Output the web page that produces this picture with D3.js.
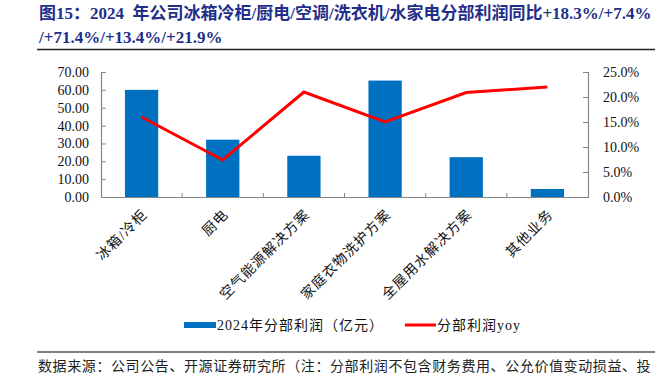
<!DOCTYPE html>
<html lang="zh">
<head>
  <meta charset="UTF-8">
  <title>分部利润</title>
  <script src="https://d3js.org/d3.v7.min.js"></script>
  <style>
    body { margin: 0; padding: 0; background: #fff; }
    svg { display: block; }
    .num { font-family: "Liberation Serif", "Noto Sans CJK SC", serif; }
    .cjk { font-family: "Liberation Serif", "Noto Sans CJK SC", sans-serif; }
  </style>
</head>
<body>
  <svg id="chart"></svg>
  <script>
    // data
    const categories = ["冰箱/冷柜", "厨电", "空气能源解决方案", "家庭衣物洗护方案", "全屋用水解决方案", "其他业务"];
    const profit2024 = [60.0, 32.1, 23.1, 65.2, 22.3, 4.5];      // 亿元
    const profitYoy = [0.160, 0.074, 0.210, 0.150, 0.209, 0.220];
    const leftTicks = [0, 10, 20, 30, 40, 50, 60, 70];
    const rightTicks = [0, 0.05, 0.10, 0.15, 0.20, 0.25];

    const titleLines = [
      "图15：2024 年公司冰箱冷柜/厨电/空调/洗衣机/水家电分部利润同比+18.3%/+7.4%",
      "/+71.4%/+13.4%/+21.9%"
    ];
    const sourceText = "数据来源：公司公告、开源证券研究所（注：分部利润不包含财务费用、公允价值变动损益、投";

    const width = 661, height = 382;
    const svg = d3.select("#chart").attr("width", width).attr("height", height);

    // title
    svg.selectAll("text.title")
      .data(titleLines)
      .enter()
      .append("text")
      .attr("class", "title cjk")
      .attr("x", 39)
      .attr("y", (d, i) => 13 + i * 24)
      .attr("dy", "0.35em")
      .attr("font-size", 17)
      .attr("font-weight", "bold")
      .attr("fill", "#1f2f8a")
      .style("white-space", "pre")
      .text(d => d.replace("2024 ", "2024  "));

    svg.append("line")
      .attr("x1", 37).attr("x2", 655)
      .attr("y1", 49.5).attr("y2", 49.5)
      .attr("stroke", "#222").attr("stroke-width", 1.5);

    // scales
    const x = d3.scaleBand().domain(categories).range([101, 588]).padding(0);
    const yL = d3.scaleLinear().domain([0, 70]).range([197, 72]);
    const yR = d3.scaleLinear().domain([0, 0.25]).range([197, 72]);
    const barW = x.bandwidth() * 0.41;

    // bars
    svg.selectAll("rect.bar")
      .data(profit2024)
      .enter()
      .append("rect")
      .attr("class", "bar")
      .attr("x", (d, i) => x(categories[i]) + (x.bandwidth() - barW) / 2)
      .attr("y", d => yL(d))
      .attr("width", barW)
      .attr("height", d => yL(0) - yL(d))
      .attr("fill", "#0070c0");

    // axes
    const axisColor = "#868686";
    const gL = svg.append("g").attr("transform", "translate(101,0)")
      .call(d3.axisRight(yL).tickValues(leftTicks).tickSize(5).tickFormat(d3.format(".2f")));
    gL.selectAll("text").attr("x", -12).attr("text-anchor", "end");

    const gR = svg.append("g").attr("transform", "translate(588,0)")
      .call(d3.axisLeft(yR).tickValues(rightTicks).tickSize(5).tickFormat(d3.format(".1%")));
    gR.selectAll("text").attr("x", 15).attr("text-anchor", "start");

    const gX = svg.append("g").attr("transform", "translate(0,197)")
      .call(d3.axisTop(x).tickSize(0).tickFormat(""));
    // category boundary ticks pointing up
    gX.selectAll("line.bound")
      .data(categories.slice(1))
      .enter()
      .append("line")
      .attr("class", "bound")
      .attr("x1", d => x(d)).attr("x2", d => x(d))
      .attr("y1", 0).attr("y2", -4);

    [gL, gR, gX].forEach(g => {
      g.select(".domain").attr("stroke", axisColor).attr("stroke-width", 1.2);
      g.selectAll("line").attr("stroke", axisColor);
      g.selectAll("text")
        .attr("class", "num")
        .attr("font-size", 14)
        .attr("fill", "#111");
    });

    // rotated category labels
    svg.selectAll("text.cat")
      .data(categories)
      .enter()
      .append("text")
      .attr("class", "cat cjk")
      .attr("transform", d => `translate(${x(d) + x.bandwidth() / 2 + 3},${212}) rotate(-45)`)
      .attr("text-anchor", "end")
      .attr("dy", "0.35em")
      .attr("font-size", 14)
      .attr("letter-spacing", 1)
      .attr("fill", "#111")
      .text(d => d);

    // yoy line
    const line = d3.line()
      .x((d, i) => x(categories[i]) + x.bandwidth() / 2)
      .y(d => yR(d));

    svg.append("path")
      .datum(profitYoy)
      .attr("d", line)
      .attr("fill", "none")
      .attr("stroke", "#ff0000")
      .attr("stroke-width", 3);

    // legend
    const legend = svg.append("g").attr("class", "cjk").attr("font-size", 14).attr("fill", "#111");
    legend.append("rect")
      .attr("x", 184).attr("y", 322).attr("width", 32).attr("height", 6)
      .attr("fill", "#0070c0");
    legend.append("text")
      .attr("x", 217).attr("y", 325).attr("dy", "0.35em")
      .attr("letter-spacing", 1)
      .text("2024年分部利润（亿元）");
    legend.append("line")
      .attr("x1", 405).attr("x2", 436).attr("y1", 325).attr("y2", 325)
      .attr("stroke", "#ff0000").attr("stroke-width", 3);
    legend.append("text")
      .attr("x", 437).attr("y", 325).attr("dy", "0.35em")
      .attr("letter-spacing", 1)
      .text("分部利润yoy");

    // source
    svg.append("line")
      .attr("x1", 37).attr("x2", 655)
      .attr("y1", 352).attr("y2", 352)
      .attr("stroke", "#7f7f7f").attr("stroke-width", 2);

    svg.append("text")
      .attr("class", "cjk")
      .attr("x", 38).attr("y", 366).attr("dy", "0.35em")
      .attr("font-size", 14)
      .attr("letter-spacing", 0.6)
      .attr("fill", "#222")
      .text(sourceText);
  </script>
</body>
</html>
